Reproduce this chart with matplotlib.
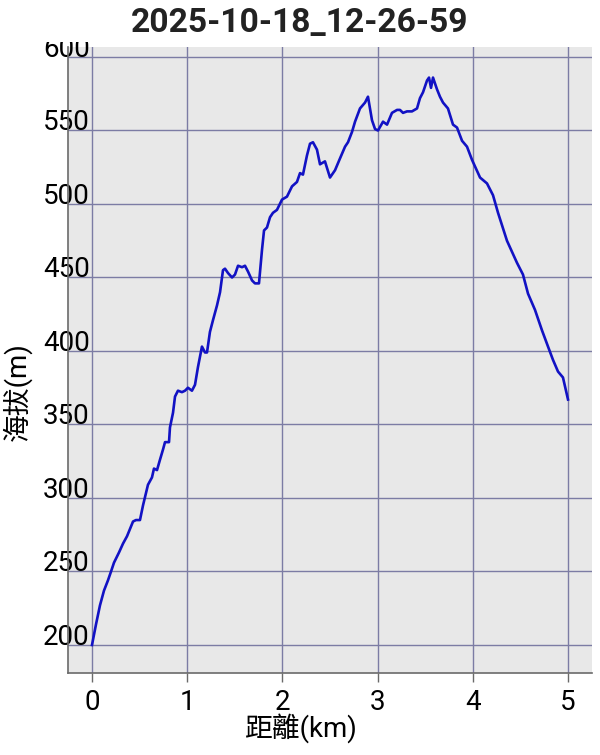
import matplotlib
matplotlib.use("Agg")
import matplotlib.pyplot as plt
from matplotlib.transforms import Bbox, TransformedBbox

# =============================================================================
# Track profile (distance in km, elevation in m)
# =============================================================================

distance_km = [
    0.0, 0.042, 0.084, 0.126, 0.168, 0.2, 0.231, 0.284, 0.326, 0.368,
    0.431, 0.462, 0.504, 0.536, 0.588, 0.63, 0.651, 0.683, 0.714, 0.746,
    0.767, 0.809, 0.819, 0.851, 0.872, 0.903, 0.945, 0.977, 1.008, 1.05,
    1.082, 1.113, 1.155, 1.187, 1.208, 1.239, 1.271, 1.313, 1.345, 1.376,
    1.397, 1.429, 1.471, 1.502, 1.534, 1.576, 1.607, 1.639, 1.681, 1.712,
    1.754, 1.786, 1.807, 1.838, 1.87, 1.901, 1.943, 1.996, 2.048, 2.101,
    2.153, 2.185, 2.216, 2.258, 2.29, 2.321, 2.363, 2.395, 2.447, 2.5,
    2.553, 2.605, 2.658, 2.689, 2.731, 2.763, 2.815, 2.868, 2.899, 2.941,
    2.973, 3.004, 3.057, 3.099, 3.151, 3.204, 3.235, 3.267, 3.309, 3.361,
    3.414, 3.445, 3.477, 3.519, 3.54, 3.561, 3.582, 3.624, 3.655, 3.687,
    3.739, 3.792, 3.834, 3.887, 3.939, 3.992, 4.076, 4.149, 4.212, 4.265,
    4.359, 4.464, 4.527, 4.58, 4.653, 4.727, 4.79, 4.842, 4.895, 4.947,
    5.0,
]

elevation_m = [
    200, 214, 227, 237, 244, 250, 256, 263, 269, 274,
    284, 285, 285, 295, 309, 314, 320, 319, 326, 333,
    338, 338, 348, 358, 369, 373, 372, 373, 375, 373,
    377, 389, 403, 399, 399, 413, 421, 431, 440, 455,
    456, 453, 450, 452, 458, 457, 458, 454, 448, 446,
    446, 469, 482, 484, 491, 494, 496, 503, 505, 512,
    515, 521, 520, 533, 541, 542, 537, 527, 529, 518,
    523, 531, 539, 542, 549, 556, 565, 569, 573, 557,
    551, 550, 556, 554, 562, 564, 564, 562, 563, 563,
    565, 572, 576, 584, 586, 579, 586, 578, 573, 569,
    565, 554, 552, 543, 539, 530, 518, 514, 506, 494,
    475, 460, 452, 439, 428, 414, 403, 394, 386, 382,
    367,
]

x_ticks = [0, 1, 2, 3, 4, 5]
y_ticks = [200, 250, 300, 350, 400, 450, 500, 550, 600]

title_text = "2025-10-18_12-26-59"
x_label_text = "距離(km)"
y_label_text = "海拔(m)"

fonts = ["Roboto", "Noto Sans CJK TC", "DejaVu Sans"]
plt.rcParams["font.family"] = fonts
# y tick labels sit on top of their grid lines
plt.rcParams["ytick.alignment"] = "baseline"

# =============================================================================
# Figure and axes
# =============================================================================

fig = plt.figure(figsize=(6.0, 7.55), dpi=100)
ax_top = 1 - 47 / 755
ax_bottom = 1 - 673 / 755
ax = fig.add_axes([68 / 600, ax_bottom, 524 / 600, ax_top - ax_bottom])
ax.set_facecolor("#e8e8e8")

ax.plot(distance_km, elevation_m, color="#1212c4", linewidth=1.9, zorder=3)

ax.set_xlim(-0.252, 5.252)
ax.set_ylim(180.95, 606.8)
ax.set_xticks(x_ticks)
ax.set_yticks(y_ticks)

ax.grid(True, color="#7c7ca4", linewidth=1.0)
ax.set_axisbelow(True)

for side in ["top", "right"]:
    ax.spines[side].set_visible(False)
for side in ["left", "bottom"]:
    ax.spines[side].set_color("#6a6a6a")
    ax.spines[side].set_linewidth(1.2)

ax.tick_params(axis="y", length=0, pad=-15.8, labelsize=20, labelcolor="black")
ax.tick_params(axis="x", length=6.5, width=1.0, color="#6a6a6a", pad=5.0,
               labelsize=20, labelcolor="black")

# The top tick label is cut off just above the plot area in the reference
clip = TransformedBbox(Bbox([[0, 0], [1, 1 - 42 / 755]]), fig.transFigure)
for tick in ax.yaxis.get_major_ticks():
    tick.label1.set_clip_box(clip)
    tick.label1.set_clip_on(True)

# =============================================================================
# Titles and labels
# =============================================================================

fig.text(0.5, 1 - 32 / 755, title_text, ha="center", va="baseline",
         fontsize=24.2, fontweight="bold", color="#222222")
fig.text(0.5, 1 - 737 / 755, x_label_text, ha="center", va="baseline",
         fontsize=20, color="black")
fig.text(17 / 600, 1 - 392 / 755, y_label_text, ha="center", va="center",
         rotation=90, fontsize=20, color="black")

fig.savefig("out.png", dpi=100)
